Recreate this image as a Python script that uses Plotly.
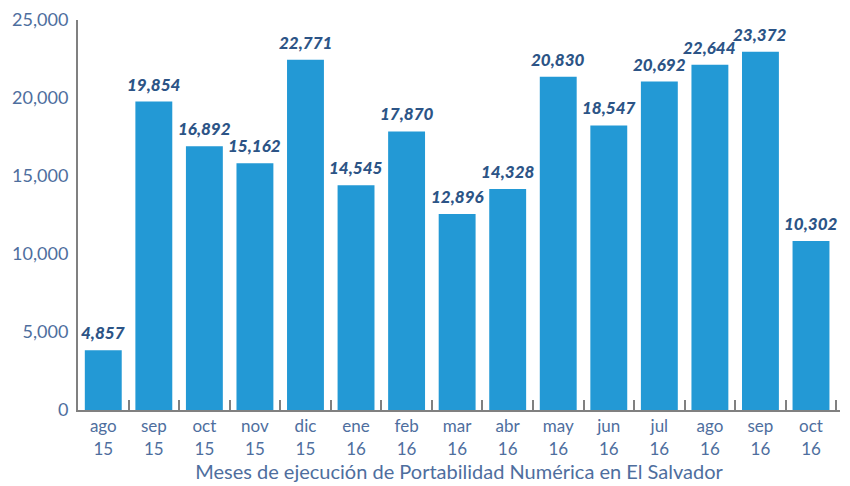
import plotly.graph_objects as go

months = ["ago<br>15", "sep<br>15", "oct<br>15", "nov<br>15", "dic<br>15",
          "ene<br>16", "feb<br>16", "mar<br>16", "abr<br>16", "may<br>16",
          "jun<br>16", "jul<br>16", "ago<br>16", "sep<br>16", "oct<br>16"]
# bar heights as drawn in the picture
bar_heights = [3830, 19770, 16900, 15820, 22450, 14410, 17860, 12560, 14160,
               21360, 18240, 21050, 22130, 22960, 10840]
# value labels printed above the bars
value_labels = ["4,857", "19,854", "16,892", "15,162", "22,771", "14,545", "17,870",
                "12,896", "14,328", "20,830", "18,547", "20,692", "22,644", "23,372",
                "10,302"]

BAR = "#2399D5"
LABEL = "#2C5486"
TICK = "#4E6E9E"
FONT = "Lato"

fig = go.Figure(go.Bar(x=months, y=bar_heights, marker_color=BAR,
                       marker_line_width=0, hoverinfo="skip"))

for m, h, t in zip(months, bar_heights, value_labels):
    fig.add_annotation(x=m, y=h, text=t, showarrow=False, yanchor="bottom",
                       yshift=5, font=dict(family=FONT, size=17, color=LABEL,
                                           weight=900, style="italic"))

fig.update_layout(
    width=842, height=478,
    margin=dict(l=70, r=10, t=12, b=76),
    plot_bgcolor="white", paper_bgcolor="white",
    bargap=0.27, showlegend=False,
    font=dict(family=FONT, color=TICK, size=17),
)
fig.update_xaxes(
    type="category", showline=True, linecolor="#808080", linewidth=2,
    ticks="inside", tickson="boundaries", ticklen=10, tickcolor="#808080",
    tickwidth=1.5, showgrid=False, automargin=False,
    tickfont=dict(family=FONT, size=17, color=TICK),
    title=dict(text="Meses de ejecución de Portabilidad Numérica en El Salvador",
               font=dict(family=FONT, size=20, color=TICK), standoff=6),
)
fig.update_yaxes(
    range=[0, 25000], dtick=5000, tickformat=",d", showline=True,
    linecolor="#808080", linewidth=2, showgrid=False, zeroline=False,
    ticks="", ticklabelstandoff=4, automargin=False, ticklabeloverflow="allow",
    tickfont=dict(family=FONT, size=18, color=TICK),
)

fig.write_html("out.html")
